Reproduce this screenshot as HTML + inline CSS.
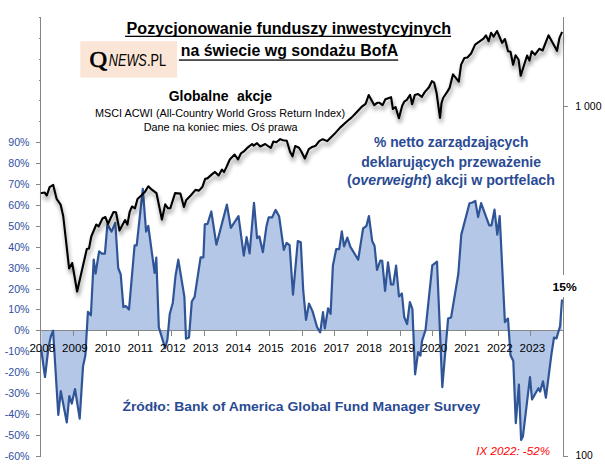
<!DOCTYPE html>
<html><head><meta charset="utf-8"><style>
html,body{margin:0;padding:0;background:#fff;width:605px;height:474px;overflow:hidden;position:relative}
</style></head><body>
<svg width="605" height="474" viewBox="0 0 605 474" style="position:absolute;left:0;top:0"><defs><filter id="sh" x="-10%" y="-10%" width="120%" height="130%"><feGaussianBlur in="SourceAlpha" stdDeviation="2"/><feOffset dx="0.8" dy="3.5" result="b"/><feComponentTransfer><feFuncA type="linear" slope="0.45"/></feComponentTransfer><feMerge><feMergeNode/><feMergeNode in="SourceGraphic"/></feMerge></filter></defs><rect x="80.3" y="41.3" width="96.8" height="36.3" fill="#fbe5d6"/><path d="M41.3,350.0 L45.0,377.0 L48.4,348.0 L50.8,336.5 L53.1,330.7 L58.3,415.0 L60.8,391.2 L66.8,422.5 L69.3,396.0 L71.8,403.6 L75.0,389.0 L79.7,418.7 L83.0,366.6 L85.4,355.2 L87.9,311.8 L90.9,315.3 L93.7,259.5 L95.6,273.6 L99.1,251.3 L101.9,253.6 L104.9,253.6 L107.4,224.4 L111.6,231.6 L115.3,222.8 L118.2,268.0 L120.7,274.3 L123.4,307.1 L125.8,306.0 L129.0,309.5 L134.6,245.4 L136.7,245.4 L142.8,188.8 L146.1,231.6 L148.3,226.0 L154.6,272.8 L156.3,257.6 L158.8,327.1 L165.1,348.3 L167.4,339.8 L169.7,314.3 L172.8,302.7 L175.5,276.0 L178.3,259.7 L184.4,296.9 L186.0,338.7 L189.0,337.5 L191.8,301.5 L194.6,296.9 L200.6,257.4 L203.4,257.4 L204.8,224.3 L207.6,223.8 L211.3,211.5 L216.4,244.7 L226.9,204.6 L230.8,227.8 L238.5,216.2 L243.8,255.6 L246.6,237.1 L249.6,253.3 L254.0,202.9 L257.1,238.2 L259.4,236.4 L262.9,252.2 L266.4,226.6 L268.7,217.3 L272.2,217.3 L275.6,209.9 L279.1,216.2 L283.8,249.8 L286.6,242.9 L289.6,245.2 L293.0,294.6 L297.8,241.0 L300.8,242.3 L303.2,290.2 L306.0,319.9 L309.0,303.6 L312.5,311.1 L317.1,327.3 L320.2,332.4 L323.0,312.2 L324.8,328.5 L328.1,308.3 L330.6,313.9 L332.9,265.6 L336.2,249.2 L339.2,249.2 L341.8,231.3 L344.1,246.4 L347.3,237.6 L350.4,246.9 L358.2,259.7 L363.1,228.3 L366.4,226.0 L368.9,216.0 L372.2,241.1 L374.5,245.7 L377.0,270.0 L380.3,260.5 L382.2,260.8 L385.1,290.8 L388.0,262.4 L391.0,284.5 L393.3,284.5 L396.1,265.6 L399.0,296.5 L401.9,293.5 L404.2,317.0 L407.1,324.0 L409.9,302.0 L412.4,309.0 L415.1,374.3 L418.1,352.2 L420.4,355.7 L422.1,340.6 L425.5,330.2 L432.3,265.4 L437.0,261.7 L442.3,387.1 L448.1,318.6 L451.1,317.4 L458.3,274.0 L461.3,234.6 L469.5,203.2 L472.5,202.5 L475.3,200.9 L478.1,217.1 L481.1,203.2 L489.2,225.3 L491.5,225.3 L494.5,209.7 L497.3,234.6 L499.7,216.0 L504.9,322.1 L508.0,318.6 L510.5,355.3 L513.3,361.0 L515.8,423.2 L518.9,384.6 L521.1,440.0 L522.9,436.6 L530.0,377.2 L532.0,399.5 L538.4,388.2 L540.1,391.6 L543.0,381.4 L545.9,397.7 L551.4,354.5 L554.0,337.6 L556.5,338.4 L560.1,326.0 L562.0,299.5 L562.0,330.5 L41.3,330.5 Z" fill="#b4c7e7" stroke="none"/><path d="M40.5,17 V457 M39,17.5 H40.5 M39,38.5 H40.5 M39,59.5 H40.5 M39,80.5 H40.5 M39,100.5 H40.5 M39,121.5 H40.5 M36,142.5 H40.5 M36,163.5 H40.5 M36,184.5 H40.5 M36,205.5 H40.5 M36,226.5 H40.5 M36,247.5 H40.5 M36,268.5 H40.5 M36,289.5 H40.5 M36,309.5 H40.5 M36,330.5 H40.5 M36,351.5 H40.5 M36,372.5 H40.5 M36,393.5 H40.5 M36,414.5 H40.5 M36,435.5 H40.5 M36,456.5 H40.5 M40,330.5 H564 M73.5,331 V336 M106.5,331 V336 M138.5,331 V336 M171.5,331 V336 M204.5,331 V336 M236.5,331 V336 M269.5,331 V336 M302.5,331 V336 M334.5,331 V336 M367.5,331 V336 M400.5,331 V336 M432.5,331 V336 M465.5,331 V336 M498.5,331 V336 M530.5,331 V336 M563.5,17 V275 M563.5,297 V457 M563,106.5 H568 M563,456.5 H568" stroke="#868686" stroke-width="1" fill="none"/><path d="M41.3,350.0 L45.0,377.0 L48.4,348.0 L50.8,336.5 L53.1,330.7 L58.3,415.0 L60.8,391.2 L66.8,422.5 L69.3,396.0 L71.8,403.6 L75.0,389.0 L79.7,418.7 L83.0,366.6 L85.4,355.2 L87.9,311.8 L90.9,315.3 L93.7,259.5 L95.6,273.6 L99.1,251.3 L101.9,253.6 L104.9,253.6 L107.4,224.4 L111.6,231.6 L115.3,222.8 L118.2,268.0 L120.7,274.3 L123.4,307.1 L125.8,306.0 L129.0,309.5 L134.6,245.4 L136.7,245.4 L142.8,188.8 L146.1,231.6 L148.3,226.0 L154.6,272.8 L156.3,257.6 L158.8,327.1 L165.1,348.3 L167.4,339.8 L169.7,314.3 L172.8,302.7 L175.5,276.0 L178.3,259.7 L184.4,296.9 L186.0,338.7 L189.0,337.5 L191.8,301.5 L194.6,296.9 L200.6,257.4 L203.4,257.4 L204.8,224.3 L207.6,223.8 L211.3,211.5 L216.4,244.7 L226.9,204.6 L230.8,227.8 L238.5,216.2 L243.8,255.6 L246.6,237.1 L249.6,253.3 L254.0,202.9 L257.1,238.2 L259.4,236.4 L262.9,252.2 L266.4,226.6 L268.7,217.3 L272.2,217.3 L275.6,209.9 L279.1,216.2 L283.8,249.8 L286.6,242.9 L289.6,245.2 L293.0,294.6 L297.8,241.0 L300.8,242.3 L303.2,290.2 L306.0,319.9 L309.0,303.6 L312.5,311.1 L317.1,327.3 L320.2,332.4 L323.0,312.2 L324.8,328.5 L328.1,308.3 L330.6,313.9 L332.9,265.6 L336.2,249.2 L339.2,249.2 L341.8,231.3 L344.1,246.4 L347.3,237.6 L350.4,246.9 L358.2,259.7 L363.1,228.3 L366.4,226.0 L368.9,216.0 L372.2,241.1 L374.5,245.7 L377.0,270.0 L380.3,260.5 L382.2,260.8 L385.1,290.8 L388.0,262.4 L391.0,284.5 L393.3,284.5 L396.1,265.6 L399.0,296.5 L401.9,293.5 L404.2,317.0 L407.1,324.0 L409.9,302.0 L412.4,309.0 L415.1,374.3 L418.1,352.2 L420.4,355.7 L422.1,340.6 L425.5,330.2 L432.3,265.4 L437.0,261.7 L442.3,387.1 L448.1,318.6 L451.1,317.4 L458.3,274.0 L461.3,234.6 L469.5,203.2 L472.5,202.5 L475.3,200.9 L478.1,217.1 L481.1,203.2 L489.2,225.3 L491.5,225.3 L494.5,209.7 L497.3,234.6 L499.7,216.0 L504.9,322.1 L508.0,318.6 L510.5,355.3 L513.3,361.0 L515.8,423.2 L518.9,384.6 L521.1,440.0 L522.9,436.6 L530.0,377.2 L532.0,399.5 L538.4,388.2 L540.1,391.6 L543.0,381.4 L545.9,397.7 L551.4,354.5 L554.0,337.6 L556.5,338.4 L560.1,326.0 L562.0,299.5" fill="none" stroke="#2f5597" stroke-width="2.2" stroke-linejoin="round"/><path d="M40.8,193.2 L44.5,192.5 L46.8,195.5 L49.6,187.2 L53.2,184.9 L56.6,198.8 L60.6,204.6 L63.2,216.0 L65.9,239.7 L69.1,268.5 L72.2,263.0 L77.1,291.5 L86.8,249.1 L89.0,248.5 L91.3,236.5 L96.3,224.5 L98.6,226.5 L102.5,218.5 L105.4,217.0 L108.0,223.8 L113.5,212.0 L116.0,212.2 L119.5,230.5 L125.1,220.0 L127.4,224.6 L129.7,211.8 L132.0,206.5 L135.0,208.3 L137.5,199.0 L141.3,195.5 L144.8,192.1 L148.3,186.3 L151.8,189.7 L156.5,193.2 L161.9,219.5 L165.2,204.4 L168.0,208.3 L170.3,208.3 L175.1,193.1 L180.4,193.6 L183.9,206.9 L186.3,199.9 L190.9,195.3 L195.5,189.9 L199.0,190.6 L202.5,186.7 L205.2,178.8 L207.4,178.4 L211.6,174.6 L215.0,171.9 L218.6,175.5 L222.0,169.6 L224.0,172.1 L226.4,167.1 L229.8,159.5 L234.6,154.5 L238.0,159.5 L241.0,153.3 L243.8,151.4 L247.9,147.3 L252.1,144.0 L253.7,145.7 L257.0,143.2 L260.3,146.5 L265.2,144.0 L270.8,148.0 L273.4,141.5 L276.3,142.3 L280.2,139.1 L283.0,140.3 L286.8,140.7 L290.1,152.0 L292.5,156.3 L295.2,146.0 L299.0,147.8 L301.3,151.5 L304.8,158.5 L308.8,149.2 L312.2,146.9 L315.7,145.7 L319.2,141.1 L322.7,139.2 L327.3,141.1 L334.3,134.1 L340.1,127.6 L347.1,121.3 L351.7,117.4 L355.2,113.7 L362.2,106.3 L365.6,103.9 L368.7,95.1 L371.0,99.3 L374.2,105.1 L377.2,102.8 L379.6,102.8 L382.6,105.1 L385.4,99.3 L391.1,97.2 L392.9,109.0 L395.6,107.0 L398.9,118.3 L402.2,105.7 L404.2,101.7 L406.8,99.8 L410.1,94.9 L412.1,104.1 L414.8,95.1 L418.1,94.1 L421.9,96.8 L424.7,92.1 L429.0,87.3 L431.9,81.2 L434.1,82.6 L436.6,93.0 L440.0,117.8 L441.5,103.2 L443.1,98.0 L447.5,91.4 L449.7,87.6 L453.0,74.3 L458.8,81.6 L461.1,64.6 L464.4,58.0 L467.4,57.5 L471.1,53.5 L475.1,44.6 L479.3,41.7 L483.5,38.6 L486.0,35.3 L488.6,41.2 L491.1,32.7 L493.6,36.6 L497.0,31.0 L502.1,42.9 L505.0,39.0 L508.0,51.3 L510.5,51.8 L513.1,64.8 L515.6,55.2 L518.6,59.8 L520.7,75.8 L527.1,55.5 L529.5,60.6 L531.7,51.3 L535.0,54.7 L539.3,48.8 L542.6,50.5 L548.5,35.3 L557.0,50.8 L559.5,37.8 L562.1,31.9" fill="none" stroke="#000" stroke-width="2.1" stroke-linejoin="round" filter="url(#sh)"/><text x="29.4" y="351.8" font-family='"Liberation Sans", sans-serif' font-size="11" font-weight="normal" font-style="normal" fill="#000" text-anchor="start" textLength="25.7" lengthAdjust="spacingAndGlyphs" >2008</text><text x="62.1" y="351.8" font-family='"Liberation Sans", sans-serif' font-size="11" font-weight="normal" font-style="normal" fill="#000" text-anchor="start" textLength="25.7" lengthAdjust="spacingAndGlyphs" >2009</text><text x="94.7" y="351.8" font-family='"Liberation Sans", sans-serif' font-size="11" font-weight="normal" font-style="normal" fill="#000" text-anchor="start" textLength="25.7" lengthAdjust="spacingAndGlyphs" >2010</text><text x="127.4" y="351.8" font-family='"Liberation Sans", sans-serif' font-size="11" font-weight="normal" font-style="normal" fill="#000" text-anchor="start" textLength="25.7" lengthAdjust="spacingAndGlyphs" >2011</text><text x="160.1" y="351.8" font-family='"Liberation Sans", sans-serif' font-size="11" font-weight="normal" font-style="normal" fill="#000" text-anchor="start" textLength="25.7" lengthAdjust="spacingAndGlyphs" >2012</text><text x="192.8" y="351.8" font-family='"Liberation Sans", sans-serif' font-size="11" font-weight="normal" font-style="normal" fill="#000" text-anchor="start" textLength="25.7" lengthAdjust="spacingAndGlyphs" >2013</text><text x="225.5" y="351.8" font-family='"Liberation Sans", sans-serif' font-size="11" font-weight="normal" font-style="normal" fill="#000" text-anchor="start" textLength="25.7" lengthAdjust="spacingAndGlyphs" >2014</text><text x="258.1" y="351.8" font-family='"Liberation Sans", sans-serif' font-size="11" font-weight="normal" font-style="normal" fill="#000" text-anchor="start" textLength="25.7" lengthAdjust="spacingAndGlyphs" >2015</text><text x="290.8" y="351.8" font-family='"Liberation Sans", sans-serif' font-size="11" font-weight="normal" font-style="normal" fill="#000" text-anchor="start" textLength="25.7" lengthAdjust="spacingAndGlyphs" >2016</text><text x="323.5" y="351.8" font-family='"Liberation Sans", sans-serif' font-size="11" font-weight="normal" font-style="normal" fill="#000" text-anchor="start" textLength="25.7" lengthAdjust="spacingAndGlyphs" >2017</text><text x="356.2" y="351.8" font-family='"Liberation Sans", sans-serif' font-size="11" font-weight="normal" font-style="normal" fill="#000" text-anchor="start" textLength="25.7" lengthAdjust="spacingAndGlyphs" >2018</text><text x="388.9" y="351.8" font-family='"Liberation Sans", sans-serif' font-size="11" font-weight="normal" font-style="normal" fill="#000" text-anchor="start" textLength="25.7" lengthAdjust="spacingAndGlyphs" >2019</text><text x="421.5" y="351.8" font-family='"Liberation Sans", sans-serif' font-size="11" font-weight="normal" font-style="normal" fill="#000" text-anchor="start" textLength="25.7" lengthAdjust="spacingAndGlyphs" >2020</text><text x="454.2" y="351.8" font-family='"Liberation Sans", sans-serif' font-size="11" font-weight="normal" font-style="normal" fill="#000" text-anchor="start" textLength="25.7" lengthAdjust="spacingAndGlyphs" >2021</text><text x="486.9" y="351.8" font-family='"Liberation Sans", sans-serif' font-size="11" font-weight="normal" font-style="normal" fill="#000" text-anchor="start" textLength="25.7" lengthAdjust="spacingAndGlyphs" >2022</text><text x="519.6" y="351.8" font-family='"Liberation Sans", sans-serif' font-size="11" font-weight="normal" font-style="normal" fill="#000" text-anchor="start" textLength="25.7" lengthAdjust="spacingAndGlyphs" >2023</text><text x="29.5" y="146.1" font-family='"Liberation Sans", sans-serif' font-size="10.6" font-weight="normal" font-style="normal" fill="#2f4fa3" text-anchor="end" >90%</text><text x="29.5" y="167.0" font-family='"Liberation Sans", sans-serif' font-size="10.6" font-weight="normal" font-style="normal" fill="#2f4fa3" text-anchor="end" >80%</text><text x="29.5" y="187.9" font-family='"Liberation Sans", sans-serif' font-size="10.6" font-weight="normal" font-style="normal" fill="#2f4fa3" text-anchor="end" >70%</text><text x="29.5" y="208.8" font-family='"Liberation Sans", sans-serif' font-size="10.6" font-weight="normal" font-style="normal" fill="#2f4fa3" text-anchor="end" >60%</text><text x="29.5" y="229.7" font-family='"Liberation Sans", sans-serif' font-size="10.6" font-weight="normal" font-style="normal" fill="#2f4fa3" text-anchor="end" >50%</text><text x="29.5" y="250.7" font-family='"Liberation Sans", sans-serif' font-size="10.6" font-weight="normal" font-style="normal" fill="#2f4fa3" text-anchor="end" >40%</text><text x="29.5" y="271.6" font-family='"Liberation Sans", sans-serif' font-size="10.6" font-weight="normal" font-style="normal" fill="#2f4fa3" text-anchor="end" >30%</text><text x="29.5" y="292.5" font-family='"Liberation Sans", sans-serif' font-size="10.6" font-weight="normal" font-style="normal" fill="#2f4fa3" text-anchor="end" >20%</text><text x="29.5" y="313.4" font-family='"Liberation Sans", sans-serif' font-size="10.6" font-weight="normal" font-style="normal" fill="#2f4fa3" text-anchor="end" >10%</text><text x="29.5" y="334.3" font-family='"Liberation Sans", sans-serif' font-size="10.6" font-weight="normal" font-style="normal" fill="#2f4fa3" text-anchor="end" >0%</text><text x="29.5" y="355.2" font-family='"Liberation Sans", sans-serif' font-size="10.6" font-weight="normal" font-style="normal" fill="#2f4fa3" text-anchor="end" >-10%</text><text x="29.5" y="376.1" font-family='"Liberation Sans", sans-serif' font-size="10.6" font-weight="normal" font-style="normal" fill="#2f4fa3" text-anchor="end" >-20%</text><text x="29.5" y="397.0" font-family='"Liberation Sans", sans-serif' font-size="10.6" font-weight="normal" font-style="normal" fill="#2f4fa3" text-anchor="end" >-30%</text><text x="29.5" y="417.9" font-family='"Liberation Sans", sans-serif' font-size="10.6" font-weight="normal" font-style="normal" fill="#2f4fa3" text-anchor="end" >-40%</text><text x="29.5" y="438.8" font-family='"Liberation Sans", sans-serif' font-size="10.6" font-weight="normal" font-style="normal" fill="#2f4fa3" text-anchor="end" >-50%</text><text x="29.5" y="459.7" font-family='"Liberation Sans", sans-serif' font-size="10.6" font-weight="normal" font-style="normal" fill="#2f4fa3" text-anchor="end" >-60%</text><text x="575.3" y="109.8" font-family='"Liberation Sans", sans-serif' font-size="10.6" font-weight="normal" font-style="normal" fill="#000" text-anchor="start" textLength="26.2" lengthAdjust="spacingAndGlyphs" >1 000</text><text x="575.5" y="458.9" font-family='"Liberation Sans", sans-serif' font-size="10.6" font-weight="normal" font-style="normal" fill="#000" text-anchor="start" textLength="17.1" lengthAdjust="spacingAndGlyphs" >100</text><text x="126.6" y="33.5" font-family='"Liberation Sans", sans-serif' font-size="15.6" font-weight="bold" font-style="normal" fill="#000" text-anchor="start" textLength="324.4" lengthAdjust="spacingAndGlyphs" >Pozycjonowanie funduszy inwestycyjnych</text><rect x="125" y="35.7" width="326" height="1.3" fill="#000"/><text x="180.8" y="56" font-family='"Liberation Sans", sans-serif' font-size="15.6" font-weight="bold" font-style="normal" fill="#000" text-anchor="start" textLength="217.4" lengthAdjust="spacingAndGlyphs" >na świecie wg sondażu BofA</text><rect x="178.9" y="59.4" width="219.3" height="1.3" fill="#000"/><text x="89.6" y="67.2" font-family='"Liberation Serif", serif' font-size="23.5" fill="#000" stroke="#000" stroke-width="0.7" textLength="17.6" lengthAdjust="spacingAndGlyphs">Q</text><text x="108.8" y="66.4" font-family='"Liberation Sans", sans-serif' font-size="15.6" font-weight="normal" font-style="italic" fill="#000" text-anchor="start" textLength="38" lengthAdjust="spacingAndGlyphs" >NEWS</text><text x="147" y="66.4" font-family='"Liberation Sans", sans-serif' font-size="15.6" font-weight="normal" font-style="normal" fill="#000" text-anchor="start" textLength="19.2" lengthAdjust="spacingAndGlyphs" >.PL</text><text x="168.7" y="100.9" font-family='"Liberation Sans", sans-serif' font-size="15.2" font-weight="bold" font-style="normal" fill="#000" text-anchor="start" textLength="59.8" lengthAdjust="spacingAndGlyphs" >Globalne</text><text x="237" y="100.9" font-family='"Liberation Sans", sans-serif' font-size="15.2" font-weight="bold" font-style="normal" fill="#000" text-anchor="start" textLength="35" lengthAdjust="spacingAndGlyphs" >akcje</text><text x="95" y="117" font-family='"Liberation Sans", sans-serif' font-size="10.8" font-weight="normal" font-style="normal" fill="#000" text-anchor="start" textLength="250" lengthAdjust="spacingAndGlyphs" >MSCI ACWI (All-Country World Gross Return Index)</text><text x="143.7" y="131" font-family='"Liberation Sans", sans-serif' font-size="10.8" font-weight="normal" font-style="normal" fill="#000" text-anchor="start" textLength="153.9" lengthAdjust="spacingAndGlyphs" >Dane na koniec mies. Oś prawa</text><text x="374" y="146.8" font-family='"Liberation Sans", sans-serif' font-size="14.2" font-weight="bold" font-style="normal" fill="#2a4b93" text-anchor="start" textLength="154.4" lengthAdjust="spacingAndGlyphs" >% netto zarządzających</text><text x="361.3" y="166.7" font-family='"Liberation Sans", sans-serif' font-size="14.2" font-weight="bold" font-style="normal" fill="#2a4b93" text-anchor="start" textLength="179.7" lengthAdjust="spacingAndGlyphs" >deklarujących przeważenie</text><text x="346.9" y="184.5" font-family='"Liberation Sans", sans-serif' font-size="14.2" font-weight="bold" fill="#2a4b93" textLength="208.1" lengthAdjust="spacingAndGlyphs">(<tspan font-style="italic">overweight</tspan>) akcji w portfelach</text><text x="552.4" y="291.1" font-family='"Liberation Sans", sans-serif' font-size="11.8" font-weight="bold" font-style="normal" fill="#000" text-anchor="start" textLength="24.3" lengthAdjust="spacingAndGlyphs" >15%</text><text x="122.4" y="411.4" font-family='"Liberation Sans", sans-serif' font-size="13.2" font-weight="bold" font-style="normal" fill="#2a4b93" text-anchor="start" textLength="357.8" lengthAdjust="spacingAndGlyphs" >Źródło: Bank of America Global Fund Manager Survey</text><text x="476.3" y="455.1" font-family='"Liberation Sans", sans-serif' font-size="11" font-weight="normal" font-style="italic" fill="#ff0000" text-anchor="start" textLength="73.7" lengthAdjust="spacingAndGlyphs" >IX 2022: -52%</text></svg>
</body></html>
